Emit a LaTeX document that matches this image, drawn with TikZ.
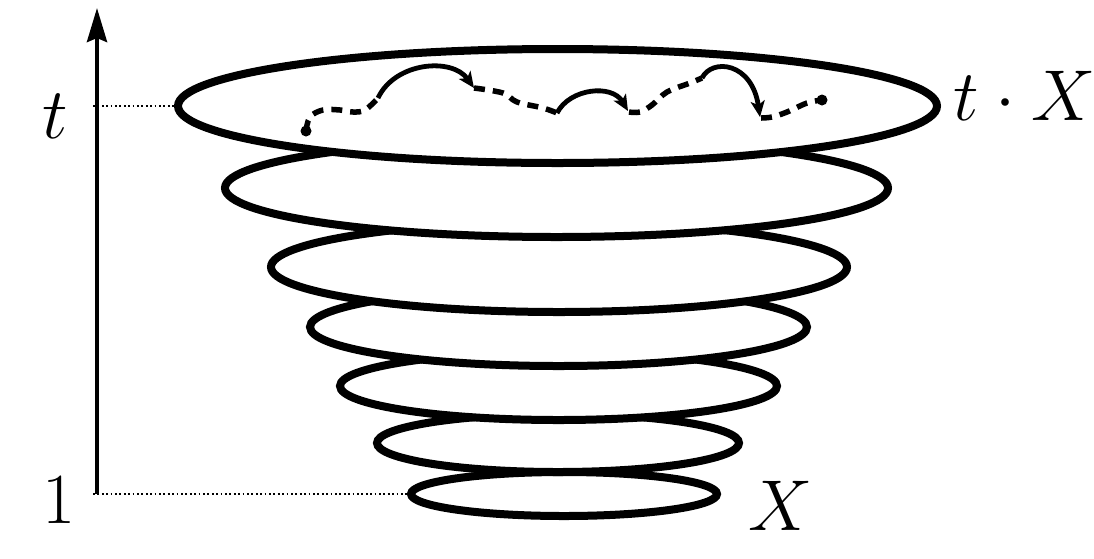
\documentclass[tikz,border=0pt]{standalone}
\usetikzlibrary{arrows.meta,shapes.geometric}
\begin{document}
\begin{tikzpicture}[x=1pt,y=-1pt,
  ring/.style={ellipse, draw=black, fill=white, line width=8pt, inner sep=0pt},
  walk/.style={line width=5.5pt, dash pattern=on 11pt off 8pt},
  jump/.style={line width=4.8pt, -{Stealth[length=16pt,width=14pt,inset=4pt]}},
  guide/.style={line width=1.8pt, dash pattern=on 1.8pt off 2.6pt},
  axisline/.style={line width=4.2pt, -{Stealth[length=34pt,width=20pt,inset=4pt]}},
  lab/.style={inner sep=0pt, anchor=base west, font=\Huge, scale=2.894, transform shape}]
\useasboundingbox (0,0) rectangle (1094,558);

% rings, bottom first
\node[ring, minimum width=306pt, minimum height=44pt] (r7) at (564,494) {};
\node[ring, minimum width=362pt, minimum height=58pt] (r6) at (558,443) {};
\node[ring, minimum width=437pt, minimum height=68pt] (r5) at (558.5,386) {};
\node[ring, minimum width=497pt, minimum height=78pt] (r4) at (558.5,327) {};
\node[ring, minimum width=576pt, minimum height=90pt] (r3) at (559,267) {};
\node[ring, minimum width=663pt, minimum height=98pt] (r2) at (556.5,188) {};
\node[ring, minimum width=759pt, minimum height=114pt] (r1) at (557.5,106) {};

% axis
\coordinate (ax0) at (97,494);
\coordinate (axt) at (97,106);
\coordinate (axtop) at (97,8);
\draw[guide] (93,494) -- (r7.west);
\draw[guide] (93,106) -- (r1.west);
\draw[axisline] (ax0) -- (axtop);

% labels
\node[lab] (tl) at (42,138) {$t$};
\node[lab] (one) at (42,523) {$1$};
\node[lab] (xl) at (748,530) {$X$};
\node[lab] (tx) at (953,120) {$t\cdot X$};

% walk
\coordinate (d1) at (306,131);
\coordinate (a1s) at (378,98);
\coordinate (a1e) at (474,88);
\coordinate (a2s) at (557,113);
\coordinate (a2e) at (629,112);
\coordinate (a3s) at (702,78);
\coordinate (a3e) at (761,118);
\coordinate (d2) at (822,100);

\draw[walk] plot[smooth, tension=0.6] coordinates {(d1) (310,117) (323,110) (340,110) (353,112) (365,110) (a1s)};
\draw[walk] plot[smooth, tension=0.6] coordinates {(a1e) (503,93) (517,102) (543,108) (a2s)};
\draw[walk] plot[smooth, tension=0.6] coordinates {(a2e) (640,112) (652,105) (667,92) (690,83) (a3s)};
\draw[walk] plot[smooth, tension=0.6] coordinates {(a3e) (772,117) (787,112) (807,103) (d2)};

\draw[jump] (a1s) .. controls (395,62) and (452,57) .. (474,88);
\draw[jump] (a2s) .. controls (570,88) and (612,84) .. (628,111);
\draw[jump] (a3s) .. controls (712,58) and (752,62) .. (760,117);

\fill (d1) circle[radius=5.5pt];
\fill (d2) circle[radius=5.5pt];
\end{tikzpicture}
\end{document}
